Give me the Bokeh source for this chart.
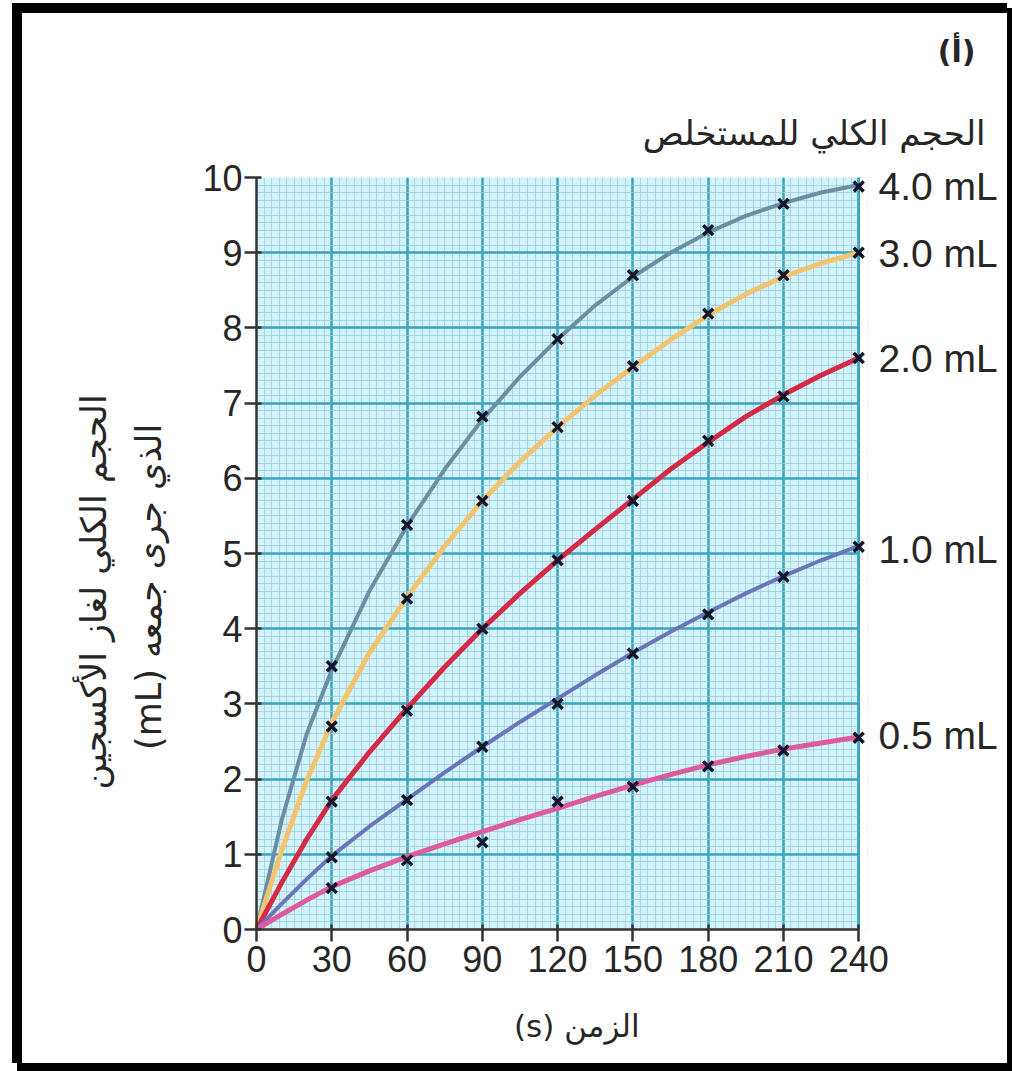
from bokeh.plotting import figure
from bokeh.models import (Range1d, SingleIntervalTicker, FixedTicker, LinearAxis,
                          Title, BoxAnnotation, Span)
from bokeh.embed import file_html
from bokeh.resources import INLINE

# ---- data ----
times = [30, 60, 90, 120, 150, 180, 210, 240]
pts_40 = [3.50, 5.38, 6.82, 7.85, 8.70, 9.30, 9.65, 9.88]
pts_30 = [2.70, 4.40, 5.70, 6.68, 7.49, 8.19, 8.70, 9.00]
pts_20 = [1.70, 2.91, 4.00, 4.91, 5.70, 6.50, 7.09, 7.60]
pts_10 = [0.96, 1.72, 2.43, 3.00, 3.67, 4.19, 4.69, 5.09]
pts_05 = [0.55, 0.92, 1.16, 1.70, 1.90, 2.17, 2.38, 2.55]

# smooth drawn curves
curve_t = [0, 10, 20, 30, 45, 60, 75, 90, 105, 120, 135, 150, 165, 180, 195, 210, 225, 240]
curve_40 = [0, 1.45, 2.60, 3.45, 4.50, 5.37, 6.12, 6.78, 7.35, 7.85, 8.30, 8.68, 9.00, 9.27, 9.49, 9.66, 9.80, 9.90]
curve_30 = [0, 1.05, 1.98, 2.75, 3.68, 4.42, 5.10, 5.70, 6.22, 6.68, 7.10, 7.48, 7.84, 8.17, 8.45, 8.68, 8.86, 9.00]
curve_20 = [0, 0.62, 1.20, 1.72, 2.36, 2.94, 3.49, 4.00, 4.47, 4.91, 5.32, 5.72, 6.12, 6.48, 6.82, 7.11, 7.37, 7.60]
curve_10 = [0, 0.34, 0.67, 0.98, 1.37, 1.73, 2.09, 2.43, 2.76, 3.07, 3.38, 3.68, 3.96, 4.22, 4.47, 4.70, 4.91, 5.10]
curve_05 = [0, 0.20, 0.39, 0.57, 0.78, 0.97, 1.14, 1.30, 1.46, 1.61, 1.77, 1.92, 2.06, 2.19, 2.30, 2.40, 2.48, 2.56]

series_labels = ["4.0 mL", "3.0 mL", "2.0 mL", "1.0 mL", "0.5 mL"]
series_colors = ["#6a8ea3", "#f3c46e", "#d42a45", "#6a74b8", "#de5a9e"]
series_widths = [4, 5, 5, 4, 5]
label_pos = [9.88, 8.99, 7.59, 5.05, 2.58]

x_ticks_interval = 30
y_ticks_interval = 1

NB = "\u00a0"
title_text = "(أ)"
legend_title = "الحجم الكلي للمستخلص"
ylabel_1 = "الحجم الكلي لغاز الأكسجين"
ylabel_2 = "\u202b" + NB * 6 + "الذي جرى جمعه (mL)\u202c"
xlabel = "\u202bالزمن (s)" + NB * 3 + "\u202c"

GRID = "#38a4bd"
TXT = "#262626"

p = figure(width=985, height=1050, output_backend="svg", toolbar_location=None,
           x_range=Range1d(0, 243.5), y_range=Range1d(0, 10),
           min_border_left=234, min_border_right=140,
           min_border_top=164, min_border_bottom=134,
           background_fill_color="#d2f3fb", border_fill_color="white",
           styles={"margin-left": "22px", "margin-top": "13px",
                   "box-shadow": "0 0 0 5px black, -5px -5px 0 5px black, 0 3px 0 5px black"})
p.outline_line_color = None

xt = SingleIntervalTicker(interval=x_ticks_interval, num_minor_ticks=10)
yt = SingleIntervalTicker(interval=y_ticks_interval, num_minor_ticks=10)
p.xaxis.ticker = xt
p.yaxis.ticker = yt
p.xgrid.ticker = xt
p.ygrid.ticker = yt
p.xaxis.bounds = (0, 240)

for g in (p.xgrid, p.ygrid):
    g.grid_line_color = GRID
    g.grid_line_width = 2.5
    g.minor_grid_line_color = "#9accde"
    g.minor_grid_line_width = 1
    g.minor_grid_line_alpha = 0.75
    g.level = "underlay"

# white strip right of t=240 so the end markers are not cut off
p.add_layout(BoxAnnotation(left=240, fill_color="white", fill_alpha=1,
                           line_color=None, level="underlay"))
p.add_layout(Span(location=240, dimension="height", line_color=GRID,
                  line_width=2.5, level="underlay"))

for ax in (p.xaxis, p.yaxis):
    ax.axis_line_color = "#333333"
    ax.axis_line_width = 2.5
    ax.major_tick_line_color = "#333333"
    ax.major_tick_line_width = 2.5
    ax.major_tick_out = 12
    ax.major_tick_in = 5
    ax.minor_tick_line_color = None
    ax.major_label_text_font = "Liberation Sans"
    ax.major_label_text_font_size = "36px"
    ax.major_label_text_color = TXT
    ax.axis_label_text_font = "DejaVu Sans"
    ax.axis_label_text_font_style = "normal"
    ax.axis_label_text_color = TXT
p.xaxis.major_label_standoff = 4
p.yaxis.major_label_standoff = 2

p.yaxis.axis_label = ylabel_2
p.yaxis.axis_label_text_font_size = "35px"
p.yaxis.axis_label_standoff = 30

p.xaxis.axis_label = xlabel
p.xaxis.axis_label_text_font_size = "31px"
p.xaxis.axis_label_standoff = 33

curves = [curve_40, curve_30, curve_20, curve_10, curve_05]
points = [pts_40, pts_30, pts_20, pts_10, pts_05]

for cv, col, w in zip(curves, series_colors, series_widths):
    p.line(curve_t, cv, line_color=col, line_width=w, line_join="round", line_cap="round")

for pv in points:
    p.scatter(times, pv, marker="x", size=14, line_width=3.5, line_color="#15152a")

# series labels at the curve ends, as a right-hand axis
p.extra_y_ranges = {"lab": Range1d(0, 1000)}
lab_ticks = [int(round(v * 100)) for v in label_pos]
rax = LinearAxis(y_range_name="lab", ticker=FixedTicker(ticks=lab_ticks),
                 major_label_overrides={t: s for t, s in zip(lab_ticks, series_labels)})
rax.axis_line_color = None
rax.major_tick_line_color = None
rax.minor_tick_line_color = None
rax.major_tick_out = 0
rax.major_tick_in = 0
rax.major_label_standoff = 11
rax.major_label_text_font = "Liberation Sans"
rax.major_label_text_font_size = "39px"
rax.major_label_text_color = TXT
p.add_layout(rax, "right")

# titles above (first added sits nearest the plot)
p.add_layout(Title(text=legend_title, align="right", offset=-118, standoff=50,
                   text_font="DejaVu Sans", text_font_size="34px",
                   text_font_style="normal", text_color=TXT), "above")
p.add_layout(Title(text=title_text, align="right", offset=-108, standoff=33,
                   text_font="DejaVu Sans", text_font_size="30px",
                   text_font_style="bold", text_color=TXT), "above")

# first line of the y label, outside the axis label
p.add_layout(Title(text=ylabel_1, align="left", offset=140, standoff=26,
                   text_font="DejaVu Sans", text_font_size="35px",
                   text_font_style="normal", text_color=TXT), "left")

open("out.html", "w").write(file_html(p, INLINE))
